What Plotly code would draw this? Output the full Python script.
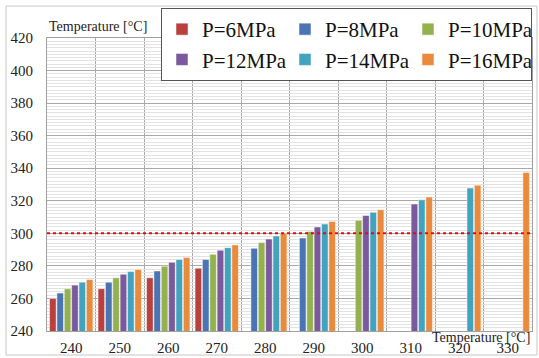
import plotly.graph_objects as go

categories = [240, 250, 260, 270, 280, 290, 300, 310, 320, 330]
series_names = ["P=6MPa", "P=8MPa", "P=10MPa", "P=12MPa", "P=14MPa", "P=16MPa"]
p6 = [260, 266, 272.7, 278.6, None, None, None, None, None, None]
p8 = [263.3, 270, 276.9, 283.9, 290.8, 297.1, None, None, None, None]
p10 = [265.9, 272.7, 279.8, 287.1, 294.3, 301.2, 308, None, None, None]
p12 = [268.2, 274.9, 282.2, 289.6, 296.5, 303.9, 311, 318, None, None]
p14 = [270, 276.5, 283.9, 291.2, 298.4, 305.7, 312.9, 320.6, 327.8, None]
p16 = [271.6, 277.8, 285.1, 292.9, 300.2, 307.3, 314.5, 322.3, 329.6, 337.4]
series_values = [p6, p8, p10, p12, p14, p16]
colors = ["#B8413E", "#4A74B4", "#93B24F", "#7A5A9C", "#41A3BE", "#EA8A3C"]
limit_temp = 300

fig = go.Figure()
for name, vals, col in zip(series_names, series_values, colors):
    fig.add_trace(go.Bar(x=categories, y=vals, name=name,
                         marker=dict(color=col, line=dict(color="white", width=0.5))))

fig.add_shape(type="line", xref="paper", x0=0, x1=1, yref="y", y0=limit_temp, y1=limit_temp,
              line=dict(color="red", width=2, dash="dot"), layer="above")

fig.add_shape(type="rect", xref="paper", yref="paper", x0=-0.0845, x1=1.0103, y0=-0.082, y1=1.109,
              line=dict(color="#C8C8C8", width=1), layer="below")

serif = "Liberation Serif"
fig.update_layout(
    width=539, height=358,
    margin=dict(l=47, r=7, t=38, b=27, autoexpand=False),
    paper_bgcolor="white", plot_bgcolor="white",
    barmode="group", bargap=0.09, bargroupgap=0.1,
    font=dict(family=serif, color="#222222"),
    showlegend=True,
    legend=dict(orientation="h", xref="container", yref="container", x=161 / 539, y=1 - 8 / 358,
                xanchor="left", yanchor="top",
                entrywidth=78, bordercolor="#555555", borderwidth=1, bgcolor="white",
                font=dict(size=21, family=serif, color="#111111"),
                traceorder="normal", itemwidth=30, tracegroupgap=0),
    xaxis=dict(range=[235, 335], tickmode="array", tickvals=categories,
               ticktext=[str(c) for c in categories], showgrid=False,
               tickfont=dict(size=15), ticks="", ticklabelstandoff=3,
               showline=True, linecolor="#A0A0A0", mirror=True, zeroline=False,
               minor=dict(tick0=235, dtick=10, showgrid=True, gridcolor="#A8A8A8", gridwidth=1)),
    yaxis=dict(range=[240, 420], dtick=20, tick0=240, showgrid=True, gridcolor="#A8A8A8",
               tickfont=dict(size=15), ticks="", ticklabelstandoff=10,
               showline=True, linecolor="#A0A0A0", mirror=True, zeroline=False,
               minor=dict(dtick=2, showgrid=True, gridcolor="#E2E2E2", gridwidth=1)),
    annotations=[
        dict(text="Temperature [°C]", xref="paper", yref="paper", x=0, y=1, xanchor="left",
             yanchor="bottom", yshift=2, showarrow=False, font=dict(size=14, family=serif)),
        dict(text="Temperature [°C]", xref="paper", yref="paper", x=1, y=0, xanchor="right",
             yanchor="top", yshift=3, showarrow=False,
             font=dict(size=14, family=serif)),
    ],
)

fig.write_html("out.html", config={"displayModeBar": False},
               post_script="document.body.style.margin='0';")
